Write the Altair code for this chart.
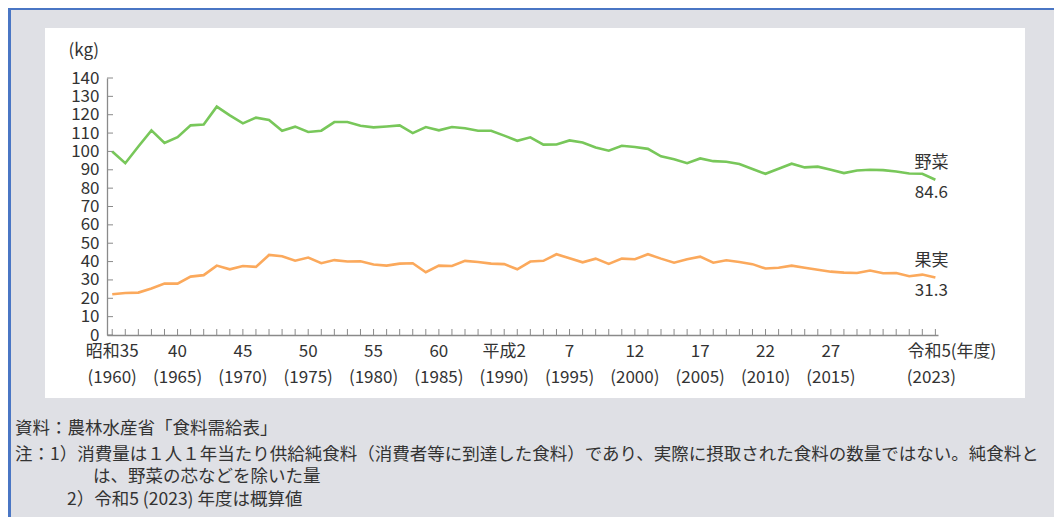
import altair as alt
import pandas as pd

# ---------------- data ----------------
years = list(range(1960, 2024))
vegetables = [
    100.0, 93.6, 102.7, 111.5, 104.6, 107.8, 114.2, 114.7, 124.4, 119.6,
    115.3, 118.4, 117.1, 111.3, 113.5, 110.6, 111.3, 116.0, 116.0, 114.0,
    113.1, 113.6, 114.2, 110.0, 113.3, 111.5, 113.3, 112.6, 111.3, 111.3,
    108.6, 105.8, 107.7, 103.7, 103.8, 106.0, 104.9, 102.2, 100.4, 103.1,
    102.4, 101.4, 97.3, 95.8, 93.6, 96.2, 94.7, 94.4, 93.1, 90.4,
    87.8, 90.6, 93.3, 91.3, 91.7, 90.0, 88.2, 89.6, 90.0, 89.8,
    89.1, 88.0, 87.8, 84.6,
]
fruits = [
    22.2, 22.9, 23.1, 25.3, 28.0, 28.0, 31.8, 32.6, 37.8, 35.8,
    37.6, 37.1, 43.6, 42.9, 40.5, 42.2, 39.1, 40.8, 40.0, 40.2,
    38.4, 37.8, 38.9, 39.1, 34.2, 37.8, 37.6, 40.4, 39.8, 38.9,
    38.6, 35.8, 40.0, 40.4, 44.0, 41.8, 39.6, 41.6, 38.7, 41.6,
    41.3, 44.0, 41.6, 39.4, 41.3, 42.7, 39.4, 40.7, 39.8, 38.6,
    36.2, 36.6, 37.8, 36.6, 35.5, 34.5, 34.0, 33.8, 35.1, 33.6,
    33.8, 32.0, 32.9, 31.3,
]
series_names = ["野菜", "果実"]
series_colors = ["#78c75a", "#fba95c"]

label_years = [1960, 1965, 1970, 1975, 1980, 1985, 1990, 1995, 2000, 2005, 2010, 2015]
label_era = ["昭和35", "40", "45", "50", "55", "60", "平成2", "7", "12", "17", "22", "27"]
label_west = ["(1960)", "(1965)", "(1970)", "(1975)", "(1980)", "(1985)", "(1990)",
              "(1995)", "(2000)", "(2005)", "(2010)", "(2015)"]
last_year = [2023]
last_era = ["令和5(年度)"]
last_west = ["(2023)"]
y_ticks = list(range(0, 141, 10))
unit_label = "(kg)"
notes = [
    "資料：農林水産省「食料需給表」",
    "注：1）消費量は１人１年当たり供給純食料（消費者等に到達した食料）であり、実際に摂取された食料の数量ではない。純食料と",
    "は、野菜の芯などを除いた量",
    "2）令和5 (2023) 年度は概算値",
]

# ---------------- layout ----------------
W, H = 831, 257
FONT = "Noto Sans CJK JP"
TXT = "#333333"
AX = "#8a8a8a"

df = pd.DataFrame({
    "year": years * 2,
    "value": vegetables + fruits,
    "series": [series_names[0]] * len(years) + [series_names[1]] * len(years),
})
end_df = pd.DataFrame({
    "year": [years[-1], years[-1]],
    "value": [vegetables[-1], fruits[-1]],
    "series": series_names,
    "vtxt": [f"{vegetables[-1]:.1f}", f"{fruits[-1]:.1f}"],
})
lab_df = pd.DataFrame({"year": label_years, "era": label_era, "west": label_west})
last_df = pd.DataFrame({"year": last_year, "era": last_era, "west": last_west})
year_df = pd.DataFrame({"year": years})
ytick_df = pd.DataFrame({"v": y_ticks})
one = pd.DataFrame({"a": [0]})

xscale = alt.Scale(domain=[1959.6, 2023.2], nice=False, zero=False)
yscale = alt.Scale(domain=[0, 140], nice=False)
xaxis = alt.Axis(labels=False, ticks=False, title=None, grid=False,
                 domainColor=AX, domainWidth=1.3, zindex=1)
yaxis = alt.Axis(values=y_ticks, ticks=False, title=None, grid=False,
                 labelPadding=8, labelFontSize=17, labelColor=TXT,
                 labelOverlap=False, labelFont=FONT,
                 domainColor=AX, domainWidth=1.3, zindex=1)
X = lambda f="year": alt.X(f"{f}:Q", scale=xscale, axis=xaxis)
Y = lambda f="value": alt.Y(f"{f}:Q", scale=yscale, axis=yaxis)

panel = alt.Chart(one).mark_rect(color="white").encode(
    x=alt.value(-62), x2=alt.value(918), y=alt.value(-50), y2=alt.value(320))
border_left = alt.Chart(one).mark_rect(color="#4a76c4").encode(
    x=alt.value(-99), x2=alt.value(-96), y=alt.value(-70), y2=alt.value(H + 182))
border_top = alt.Chart(one).mark_rect(color="#4a76c4").encode(
    x=alt.value(-99), x2=alt.value(W + 116), y=alt.value(-70), y2=alt.value(-68))

lines = alt.Chart(df).mark_line(strokeWidth=2.6).encode(
    x=X(), y=Y(),
    color=alt.Color("series:N", scale=alt.Scale(domain=series_names, range=series_colors),
                    legend=None),
    detail="series:N",
)

xticks = alt.Chart(year_df).mark_rule(color=AX, strokeWidth=1).encode(
    x=X(), y=alt.value(H), y2=alt.value(H - 6))
yticks = alt.Chart(ytick_df).mark_rule(color=AX, strokeWidth=1).encode(
    y=Y("v"), x=alt.value(0), x2=alt.value(6))

era_txt = alt.Chart(lab_df).mark_text(fontSize=17, color=TXT, baseline="middle").encode(
    x=X(), y=alt.value(274), text="era:N")
west_txt = alt.Chart(lab_df).mark_text(fontSize=17, color=TXT, baseline="middle").encode(
    x=X(), y=alt.value(300), text="west:N")
last_era_txt = alt.Chart(last_df).mark_text(fontSize=17, color=TXT, baseline="middle",
                                            align="left", dx=-28).encode(
    x=X(), y=alt.value(274), text="era:N")
last_west_txt = alt.Chart(last_df).mark_text(fontSize=17, color=TXT, baseline="middle",
                                             dx=-4).encode(
    x=X(), y=alt.value(300), text="west:N")

name_txt = alt.Chart(end_df).mark_text(fontSize=17, color=TXT, baseline="middle",
                                       dx=-4, dy=-17).encode(
    x=X(), y=Y(), text="series:N")
val_txt = alt.Chart(end_df).mark_text(fontSize=17, color=TXT, baseline="middle",
                                      dx=-4, dy=13).encode(
    x=X(), y=Y(), text="vtxt:N")

unit_txt = alt.Chart(pd.DataFrame({"t": [unit_label]})).mark_text(
    fontSize=17, color=TXT, baseline="middle", align="right").encode(
    x=alt.value(-8), y=alt.value(-27), text="t:N")

note_df = pd.DataFrame({
    "t": notes,
    "nx": [-92, -92, -14, -40],
    "ny": [351, 377, 399, 422],
})
note_layers = [
    alt.Chart(note_df.iloc[[i]]).mark_text(fontSize=17.5, color=TXT, baseline="middle",
                                           align="left").encode(
        x=alt.value(int(note_df.nx[i])), y=alt.value(int(note_df.ny[i])), text="t:N")
    for i in range(len(notes))
]

chart = alt.layer(
    panel, border_left, border_top, xticks, yticks, lines,
    era_txt, west_txt, last_era_txt, last_west_txt, name_txt, val_txt, unit_txt,
    *note_layers,
).properties(
    width=W, height=H,
    padding={"left": 99, "top": 70, "right": 116, "bottom": 182},
    autosize=alt.AutoSizeParams(type="none"),
    background="#dfe0e5",
).configure(font=FONT).configure_view(stroke=None)

chart.save("out.html", embed_options={"renderer": "svg", "actions": False})
